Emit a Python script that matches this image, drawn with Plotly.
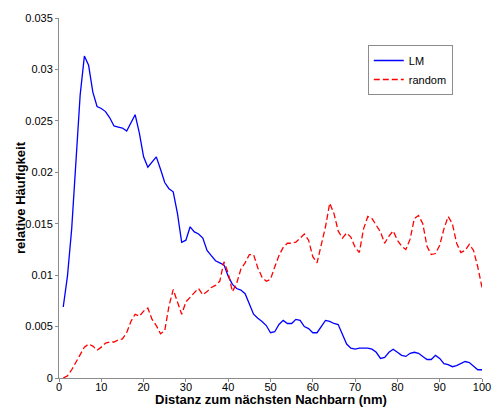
import plotly.graph_objects as go

# Distance to nearest neighbour (nm), 1..100
distance_nm = list(range(1, 101))

# Relative frequency for the measured (LM) distribution
lm_freq = [
    0.0069, 0.0099, 0.0145, 0.0205, 0.0275, 0.0313, 0.0304, 0.0278, 0.0264, 0.0262,
    0.0259, 0.0253, 0.0245, 0.0244, 0.0243, 0.0240, 0.0248, 0.0256, 0.0238, 0.0215,
    0.0205, 0.0210, 0.0215, 0.0203, 0.0190, 0.0184, 0.0181, 0.0160, 0.0132, 0.0134,
    0.0147, 0.0142, 0.0140, 0.0136, 0.0124, 0.0119, 0.0114, 0.0112, 0.0110, 0.0099,
    0.0091, 0.0087, 0.00855, 0.0082, 0.0071, 0.0062, 0.0058, 0.0055, 0.0051, 0.0044,
    0.0045, 0.0052, 0.0056, 0.0053, 0.0053, 0.0057, 0.0056, 0.0050, 0.0048, 0.0044,
    0.0044, 0.0050, 0.0056, 0.0055, 0.0053, 0.0052, 0.0043, 0.0033, 0.0029, 0.0028,
    0.0029, 0.0029, 0.0029, 0.0028, 0.0025, 0.0019, 0.0020, 0.0025, 0.0028, 0.0025,
    0.0022, 0.0021, 0.0024, 0.0025, 0.0024, 0.0021, 0.0018, 0.0018, 0.0022, 0.0019,
    0.0014, 0.0013, 0.0011, 0.0012, 0.0014, 0.0016, 0.0015, 0.0011, 0.0008, 0.0008,
]

# Relative frequency for a random point distribution
random_freq = [
    0.0000, 0.0002, 0.0008, 0.0015, 0.0023, 0.0030, 0.0033, 0.0031, 0.0027, 0.0030,
    0.0034, 0.0035, 0.0035, 0.0037, 0.0038, 0.0044, 0.0055, 0.0062, 0.0060, 0.0065,
    0.0068, 0.0057, 0.0051, 0.0043, 0.0046, 0.0070, 0.0086, 0.0074, 0.0062, 0.0074,
    0.0079, 0.0083, 0.0087, 0.0081, 0.0084, 0.0088, 0.0090, 0.0094, 0.0113, 0.0102,
    0.0084, 0.0092, 0.0106, 0.0112, 0.0120, 0.0120, 0.0107, 0.0098, 0.0094, 0.0096,
    0.0108, 0.0119, 0.0127, 0.0131, 0.0131, 0.0132, 0.0136, 0.0140, 0.0134, 0.0118,
    0.0112, 0.0130, 0.0147, 0.0170, 0.0160, 0.0143, 0.0136, 0.0141, 0.0137, 0.0127,
    0.0122, 0.0145, 0.0157, 0.0155, 0.0149, 0.0142, 0.0131, 0.0138, 0.0143, 0.0134,
    0.0128, 0.0125, 0.0135, 0.0155, 0.0158, 0.0150, 0.0128, 0.0120, 0.0121, 0.0129,
    0.0145, 0.0157, 0.0150, 0.0131, 0.0122, 0.0124, 0.0130, 0.0124, 0.0108, 0.0088,
]

x_ticks = [0, 10, 20, 30, 40, 50, 60, 70, 80, 90, 100]
y_ticks = [0, 0.005, 0.01, 0.015, 0.02, 0.025, 0.03, 0.035]
y_tick_labels = ["0", "0.005", "0.01", "0.015", "0.02", "0.025", "0.03", "0.035"]

x_title = "Distanz zum nächsten Nachbarn (nm)"
y_title = "relative Häufigkeit"

FONT = "Liberation Sans, Arial, sans-serif"
AXIS_GREY = "#8c8c8c"

fig = go.Figure()
fig.add_trace(go.Scatter(
    x=distance_nm, y=lm_freq, mode="lines", name="LM",
    line=dict(color="#0000ff", width=1.3),
))
fig.add_trace(go.Scatter(
    x=distance_nm, y=random_freq, mode="lines", name="random",
    line=dict(color="#ff0000", width=1.3, dash="6px,3px"),
))

fig.update_layout(
    width=492, height=408,
    margin=dict(l=59, r=10, t=18, b=30, autoexpand=False),
    paper_bgcolor="white", plot_bgcolor="white",
    font=dict(family=FONT, size=11, color="black"),
    showlegend=True,
    legend=dict(
        x=0.73, y=0.925, xanchor="left", yanchor="top",
        bgcolor="white", bordercolor=AXIS_GREY, borderwidth=1,
        font=dict(size=11), itemwidth=30, tracegroupgap=0,
    ),
    xaxis=dict(
        range=[0, 100], tickvals=x_ticks, ticks="outside", ticklen=3,
        tickcolor=AXIS_GREY, showline=True, linecolor=AXIS_GREY, linewidth=1,
        showgrid=False, zeroline=False, tickfont=dict(size=11), automargin=False,
        ticklabelstandoff=-4,
    ),
    yaxis=dict(
        range=[0, 0.035], tickvals=y_ticks, ticktext=y_tick_labels,
        ticks="outside", ticklen=3, tickcolor=AXIS_GREY, showline=True,
        linecolor=AXIS_GREY, linewidth=1, showgrid=False, zeroline=False,
        tickfont=dict(size=11), automargin=False,
    ),
    annotations=[
        # axis titles, placed relative to the plot area edges
        dict(text=f"<b>{x_title}</b>", xref="paper", yref="paper", x=0.5, y=0,
             xanchor="center", yanchor="middle", yshift=-21, showarrow=False,
             font=dict(size=13)),
        dict(text=f"<b>{y_title}</b>", xref="paper", yref="paper", x=0, y=0.5,
             xanchor="center", yanchor="middle", xshift=-39, textangle=-90,
             showarrow=False, font=dict(size=13)),
    ],
)

fig.write_html("out.html")
